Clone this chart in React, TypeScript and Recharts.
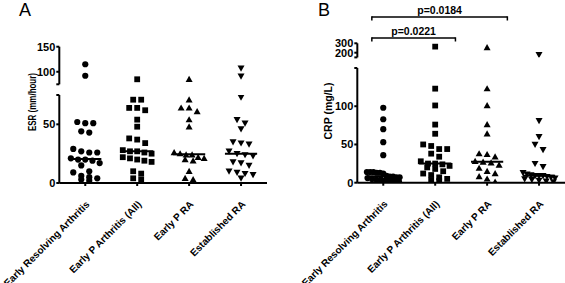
import React from 'react';
import { ScatterChart, Scatter, XAxis, YAxis, ReferenceLine } from 'recharts';

const FONT = '"Liberation Sans", Arial, Helvetica, sans-serif';

const categories = ['Early Resolving Arthritis', 'Early P Arthritis (All)', 'Early P RA', 'Established RA'];

// ESR (mm/hour)
const esrResolving = [115, 92, 52, 51, 51, 44, 43, 29, 27, 26, 26, 21, 20, 20, 19, 17, 15, 10, 9, 6, 5, 4, 3, 2];
const esrEarlyAll = [85, 71, 71, 64, 64, 62, 54, 48, 38, 37, 34, 28, 27, 27, 26, 25, 22, 21, 20, 19, 18, 10, 8, 4, 3];
const esrEarlyRA = [85, 71, 64, 64, 61, 54, 48, 26, 25, 24, 24, 22, 21, 20, 19, 10, 4, 3];
const esrEstablished = [107, 91, 73, 54, 51, 46, 35, 34, 33, 27, 25, 24, 23, 18, 17, 15, 10, 9, 8, 7, 4];

// CRP (mg/L)
const crpResolving = [98, 83, 70, 53, 36, 14, 14, 14, 13, 13, 12, 9, 8, 8, 7, 7, 6, 5, 4, 4, 3, 3, 2, 1];
const crpEarlyAll = [265, 123, 101, 76, 64, 50, 48, 44, 44, 38, 34, 28, 25, 25, 24, 22, 20, 18, 15, 12, 10, 7, 5, 3, 2];
const crpEarlyRA = [255, 123, 101, 76, 64, 38, 37, 34, 28, 27, 26, 23, 19, 15, 12, 8, 5, 1];
const crpEstablished = [178, 81, 60, 50, 43, 25, 21, 13, 11, 10, 9, 9, 9, 8, 7, 6, 5, 4, 3, 2, 1];

// axis segments (broken y axes)
const esrLowerTicks = [0, 50, 75];
const esrUpperTicks = [75, 100, 150];
const crpLowerTicks = [0, 50, 100, 150];
const crpUpperTicks = [150, 200, 300];

// significance brackets on CRP panel: [from group, to group, label]
const crpComparisons: [number, number, string][] = [
  [1, 3, 'p=0.0184'],
  [1, 2, 'p=0.0221'],
];

const median = (vals: number[]) => {
  const s = [...vals].sort((a, b) => a - b);
  const m = Math.floor(s.length / 2);
  return s.length % 2 ? s[m] : (s[m - 1] + s[m]) / 2;
};

const Circle = (p: any) => <circle cx={p.cx} cy={p.cy} r={3.1} fill="#000" />;
const Square = (p: any) => <rect x={p.cx - 2.9} y={p.cy - 2.9} width={5.8} height={5.8} fill="#000" />;
const TriUp = (p: any) => (
  <path d={`M${p.cx},${p.cy - 3.5}L${p.cx + 3.5},${p.cy + 2.7}L${p.cx - 3.5},${p.cy + 2.7}Z`} fill="#000" />
);
const TriDown = (p: any) => (
  <path d={`M${p.cx},${p.cy + 3.5}L${p.cx + 3.5},${p.cy - 2.7}L${p.cx - 3.5},${p.cy - 2.7}Z`} fill="#000" />
);
const shapes = [Circle, Square, TriUp, TriDown];
const NoShape = () => <g />;

const CatTick = ({ x, y, payload }: any) => {
  const tx = x + 5;
  const ty = y + 17;
  return (
    <text x={tx} y={ty} transform={`rotate(-45 ${tx} ${ty})`} textAnchor="end"
      fontSize={10} fontWeight="bold" fontFamily={FONT} fill="#000">
      {categories[payload.value - 1]}
    </text>
  );
};

interface Geo {
  left: number; width: number; yAxisW: number; right: number;
  upTop: number; upPlotTop: number; upPlotBottom: number;
  lowTop: number; lowPlotTop: number; lowPlotBottom: number;
}

// Prism-like column scatter: points at similar heights spread side by side
function layoutGroup(values: number[], g: number, brk: number, max: number, geo: Geo) {
  const kLow = (geo.lowPlotBottom - geo.lowPlotTop) / brk;
  const kUp = (geo.upPlotBottom - geo.upPlotTop) / (max - brk);
  const gap = geo.lowPlotTop - geo.upPlotBottom;
  const unitPx = (geo.width - geo.yAxisW - geo.right) / 4;
  const py = (v: number) => (v <= brk ? v * kLow : brk * kLow + gap + (v - brk) * kUp);
  const pts = values.map((v) => ({ v, p: py(v) })).sort((a, b) => b.p - a.p);
  const rows: { v: number; p: number }[][] = [];
  let cur: { v: number; p: number }[] = [];
  pts.forEach((pt) => {
    if (cur.length && cur[0].p - pt.p >= 6) {
      rows.push(cur);
      cur = [];
    }
    cur.push(pt);
  });
  if (cur.length) rows.push(cur);
  const out: { x: number; y: number }[] = [];
  rows.forEach((row) => {
    const step = Math.min(8, 36 / row.length);
    row.forEach((pt, i) => out.push({ x: g + ((i - (row.length - 1) / 2) * step) / unitPx, y: pt.v }));
  });
  return out;
}

const axisStyle = { stroke: '#000', strokeWidth: 2 };
const tickStyle = { fontSize: 11, fontWeight: 'bold', fill: '#000', fontFamily: FONT };

const BrokenPanel = ({ groups, brk, max, lowTicks, upTicks, geo }: any) => {
  const g: Geo = geo;
  const laid = groups.map((vals: number[], i: number) => layoutGroup(vals, i + 1, brk, max, g));
  const fmt = (v: number) => (v === brk ? '' : String(v));
  const upH = g.upPlotBottom - g.upTop + 3;
  const lowH = 283 - g.lowTop;
  return (
    <>
      <div style={{ position: 'absolute', left: g.left, top: g.upTop }}>
        <ScatterChart width={g.width} height={upH}
          margin={{ top: g.upPlotTop - g.upTop, right: g.right, left: 0, bottom: 3 }}>
          <XAxis type="number" dataKey="x" domain={[0.5, 4.5]} hide />
          <YAxis type="number" dataKey="y" domain={[brk, max]} ticks={upTicks} interval={0}
            width={g.yAxisW} tickSize={3} tickMargin={1} axisLine={axisStyle} tickLine={axisStyle}
            tick={tickStyle} tickFormatter={fmt} allowDataOverflow />
          {laid.map((pts: any[], i: number) => (
            <Scatter key={i} data={pts.filter((p) => p.y > brk)} shape={shapes[i]} isAnimationActive={false} />
          ))}
        </ScatterChart>
      </div>
      <div style={{ position: 'absolute', left: g.left, top: g.lowTop }}>
        <ScatterChart width={g.width} height={lowH}
          margin={{ top: g.lowPlotTop - g.lowTop, right: g.right, left: 0, bottom: 0 }}>
          <XAxis type="number" dataKey="x" domain={[0.5, 4.5]} ticks={[1, 2, 3, 4]} interval={0}
            height={283 - g.lowPlotBottom} tickSize={3} axisLine={axisStyle} tickLine={axisStyle}
            tick={<CatTick />} />
          <YAxis type="number" dataKey="y" domain={[0, brk]} ticks={lowTicks} interval={0}
            width={g.yAxisW} tickSize={3} tickMargin={1} axisLine={axisStyle} tickLine={axisStyle}
            tick={tickStyle} tickFormatter={fmt} allowDataOverflow />
          {laid.map((pts: any[], i: number) => (
            <Scatter key={i} data={pts.filter((p) => p.y <= brk)} shape={shapes[i]} isAnimationActive={false} />
          ))}
          {groups.map((vals: number[], i: number) => (
            <ReferenceLine key={'m' + i} stroke="#000" strokeWidth={2}
              segment={[{ x: i + 1 - 0.31, y: median(vals) }, { x: i + 1 + 0.31, y: median(vals) }]} />
          ))}
        </ScatterChart>
      </div>
    </>
  );
};

const geoA: Geo = {
  left: 0, width: 275, yAxisW: 59.3, right: 8,
  upTop: 40, upPlotTop: 46.7, upPlotBottom: 84.3,
  lowTop: 88, lowPlotTop: 95, lowPlotBottom: 183,
};
const geoB: Geo = {
  left: 280, width: 285, yAxisW: 77.3, right: 0,
  upTop: 36, upPlotTop: 43.3, upPlotBottom: 57.4,
  lowTop: 61, lowPlotTop: 68, lowPlotBottom: 182.7,
};

const bracketLevels = [0.8, 0.2];

const Brackets = () => {
  const ends = crpComparisons.map(([from, to], i) => ({ x1: from - 0.22, x2: to + 0.39, lvl: bracketLevels[i] }));
  const anchorPts = ends.flatMap((e) => [{ x: e.x1, y: e.lvl }, { x: e.x2, y: e.lvl }]);
  return (
    <div style={{ position: 'absolute', left: geoB.left, top: 0 }}>
      <ScatterChart width={geoB.width} height={50} margin={{ top: 10, right: 0, left: geoB.yAxisW, bottom: 5 }}>
        <XAxis type="number" dataKey="x" domain={[0.5, 4.5]} hide />
        <YAxis type="number" dataKey="y" domain={[0, 1]} hide />
        <Scatter data={anchorPts} shape={NoShape} isAnimationActive={false} />
        {crpComparisons.map(([, , label], i) => {
          const { x1, x2, lvl } = ends[i];
          return (
            <React.Fragment key={i}>
              <ReferenceLine segment={[{ x: x1, y: lvl }, { x: x2, y: lvl }]} stroke="#000" strokeWidth={1.5}
                label={{ value: label, position: 'top', offset: 3, fill: '#000', fontSize: 10.5, fontWeight: 'bold', fontFamily: FONT }} />
              <ReferenceLine segment={[{ x: x1, y: lvl + 0.02 }, { x: x1, y: lvl - 0.1 }]} stroke="#000" strokeWidth={1.5} />
              <ReferenceLine segment={[{ x: x2, y: lvl + 0.02 }, { x: x2, y: lvl - 0.1 }]} stroke="#000" strokeWidth={1.5} />
            </React.Fragment>
          );
        })}
      </ScatterChart>
    </div>
  );
};

export default function App() {
  return (
    <div style={{ position: 'absolute', left: 0, top: 0, width: 565, height: 283, background: '#fff', overflow: 'hidden', fontFamily: FONT }}>
      <BrokenPanel groups={[esrResolving, esrEarlyAll, esrEarlyRA, esrEstablished]} brk={75} max={150}
        lowTicks={esrLowerTicks} upTicks={esrUpperTicks} geo={geoA} />
      <BrokenPanel groups={[crpResolving, crpEarlyAll, crpEarlyRA, crpEstablished]} brk={150} max={300}
        lowTicks={crpLowerTicks} upTicks={crpUpperTicks} geo={geoB} />
      <Brackets />
      <svg width={565} height={283} style={{ position: 'absolute', left: 0, top: 0, pointerEvents: 'none' }}>
        <text x={19} y={16} fontSize={18} fontFamily={FONT} fill="#000">A</text>
        <text x={318} y={16} fontSize={18} fontFamily={FONT} fill="#000">B</text>
        <text x={31.7} y={102} transform="rotate(-90 31.7 102)" textAnchor="middle" dominantBaseline="central"
          fontSize={10.5} fontWeight="bold" fontFamily={FONT} fill="#000" textLength={58} lengthAdjust="spacingAndGlyphs">ESR (mm/hour)</text>
        <text x={328} y={111} transform="rotate(-90 328 111)" textAnchor="middle" dominantBaseline="central"
          fontSize={10.5} fontWeight="bold" fontFamily={FONT} fill="#000">CRP (mg/L)</text>
      </svg>
    </div>
  );
}
